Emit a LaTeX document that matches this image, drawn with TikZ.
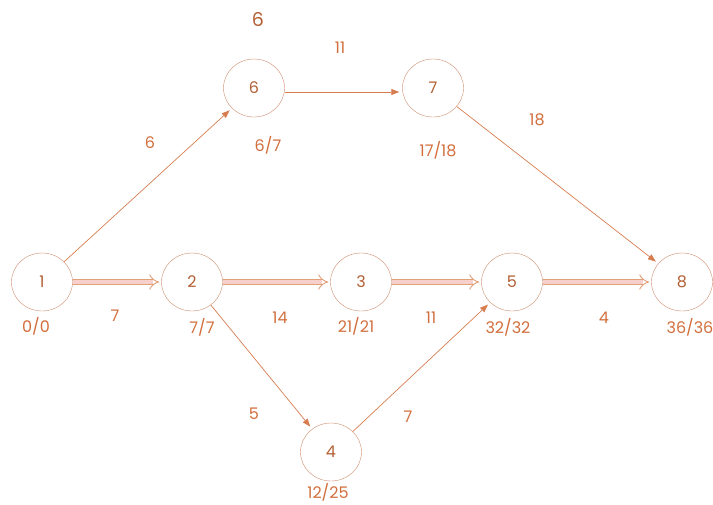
\documentclass[tikz,border=0pt]{standalone}
\usepackage{fontspec}
\setmainfont{Poppins}
\usepackage{xcolor}
\usetikzlibrary{arrows.meta, positioning, calc, shapes.geometric}
\definecolor{pert}{RGB}{210,110,60}
\definecolor{ring}{RGB}{205,140,110}
\definecolor{critout}{RGB}{225,160,120}
\definecolor{critin}{RGB}{240,150,140}

\begin{document}
\begin{tikzpicture}[x=1pt, y=-1pt,
    event/.style={ellipse, draw=ring, minimum width=61pt, minimum height=58pt, inner sep=0pt, font=\fontsize{16}{17}\selectfont, text=pert!85!black},
    lbl/.style={font=\fontsize{16}{17}\selectfont, text=pert},
    act/.style={draw=pert!90, line width=0.7pt, -{Triangle[length=8pt,width=6pt]}, shorten >=3pt},
    crit/.style={draw=critout, line width=0.9pt, double=critin!45!white, double distance=4.5pt, -{Implies[length=7pt]}, shorten >=2pt}]
    \useasboundingbox (0,0) rectangle (713,504);
    \node[event] (e1) at (42,282) {1};
    \node[event] (e2) at (192,282) {2};
    \node[event] (e3) at (361,282) {3};
    \node[event] (e4) at (331,452) {4};
    \node[event] (e5) at (512,282) {5};
    \node[event] (e6) at (254,88) {6};
    \node[event] (e7) at (433,88) {7};
    \node[event] (e8) at (682,282) {8};

    \draw[act] (e1) -- (e6);
    \draw[act] ([yshift=-4pt]e6.east) -- ([yshift=-4pt]e7.west);
    \draw[act] (e7) -- (e8);
    \draw[act] (e2) -- (e4);
    \draw[act] (e4) -- (e5);
    \draw[crit] (e1) -- (e2);
    \draw[crit] (e2) -- (e3);
    \draw[crit] (e3) -- (e5);
    \draw[crit] (e5) -- (e8);

    \node[lbl, font=\fontsize{19}{20}\selectfont, text=pert!85!black] (top6) at (258,20) {6};
    \node[lbl] (w16) at (150,143) {6};
    \node[lbl] (w67) at (340,48) {11};
    \node[lbl] (w78) at (537,120) {18};
    \node[lbl] (w12) at (115,316) {7};
    \node[lbl] (w23) at (280,318) {14};
    \node[lbl] (w35) at (431,318) {11};
    \node[lbl] (w58) at (604,318) {4};
    \node[lbl] (w24) at (254,414) {5};
    \node[lbl] (w45) at (408,417) {7};

    \node[lbl] (t1) at (36,326) {0/0};
    \node[lbl] (t2) at (202,327) {7/7};
    \node[lbl] (t3) at (356,326) {21/21};
    \node[lbl] (t5) at (508,327) {32/32};
    \node[lbl] (t8) at (690,327) {36/36};
    \node[lbl] (t4) at (328,492) {12/25};
    \node[lbl] (t6) at (268,145) {6/7};
    \node[lbl] (t7) at (438,150) {17/18};
\end{tikzpicture}
\end{document}
